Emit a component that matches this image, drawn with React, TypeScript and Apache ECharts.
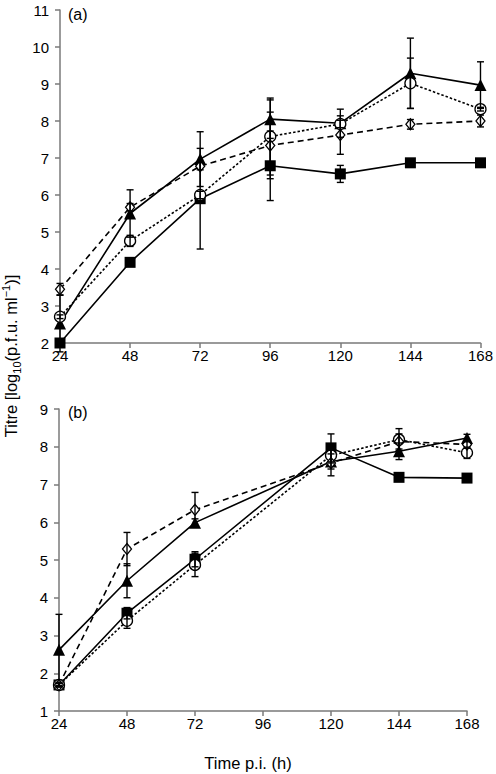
import React, { useEffect, useRef } from "react";
import * as echarts from "echarts";

const hours = [24, 48, 72, 96, 120, 144, 168];
const xTicks = [24, 48, 72, 96, 120, 144, 168];

// Panel (a)
const aSquare = [2.0, 4.18, 5.9, 6.79, 6.57, 6.87, 6.87];
const aSquareErr = [0, 0, 1.36, 0.94, 0.23, 0, 0];
const aTriangle = [2.53, 5.5, 6.97, 8.05, 7.94, 9.29, 8.97];
const aTriangleErr = [0.77, 0.64, 0.74, 0.52, 0.38, 0.95, 0.63];
const aCircle = [2.71, 4.76, 6.0, 7.58, 7.92, 9.02, 8.32];
const aCircleErr = [0.05, 0.15, 0.1, 1.04, 0.1, 0.68, 0.05];
const aDiamond = [3.45, 5.67, 6.78, 7.34, 7.62, 7.91, 8.0];
const aDiamondErr = [0.16, 0.1, 0.1, 0.9, 0.52, 0.13, 0.16];

// Panel (b) (no sample at 96 h)
const bSquare = [1.69, 3.59, 5.02, null, 7.97, 7.19, 7.17];
const bSquareErr = [0.05, 0.15, 0.2, 0, 0.37, 0, 0];
const bTriangle = [2.62, 4.45, 5.99, null, 7.61, 7.88, 8.23];
const bTriangleErr = [0.94, 0.45, 0.1, 0, 0.2, 0.22, 0.1];
const bCircle = [1.69, 3.39, 4.87, null, 7.77, 8.19, 7.84];
const bCircleErr = [0.05, 0.2, 0.31, 0, 0.2, 0.29, 0.15];
const bDiamond = [1.69, 5.29, 6.33, null, 7.57, 8.14, 8.06];
const bDiamondErr = [0.05, 0.44, 0.46, 0, 0.34, 0.2, 0.1];

const FONT = "Liberation Sans, Arial, sans-serif";

type Val = number | null;

function lineSeries(
  vals: Val[],
  grid: number,
  symbol: string,
  size: number | number[],
  filled: boolean,
  dash: "solid" | number[]
) {
  return {
    type: "line",
    xAxisIndex: grid,
    yAxisIndex: grid,
    data: hours.map((h, i) => [h, vals[i]]).filter((d) => d[1] !== null),
    symbol,
    symbolSize: size,
    showSymbol: true,
    connectNulls: true,
    lineStyle: { color: "#000", width: 1.6, type: dash },
    itemStyle: {
      color: filled ? "#000" : "#fff",
      borderColor: "#000",
      borderWidth: filled ? 0 : 1.3,
    },
    z: 3,
  };
}

function errSeries(vals: Val[], errs: number[], grid: number) {
  const data: number[][] = [];
  hours.forEach((h, i) => {
    const v = vals[i];
    if (v !== null && errs[i] > 0) data.push([h, v - errs[i], v + errs[i]]);
  });
  return {
    type: "custom",
    xAxisIndex: grid,
    yAxisIndex: grid,
    data,
    z: 4,
    renderItem: (params: any, api: any) => {
      const x = api.value(0);
      const p1 = api.coord([x, api.value(1)]);
      const p2 = api.coord([x, api.value(2)]);
      const w = 3.5;
      const st = { stroke: "#000", lineWidth: 1.4 };
      return {
        type: "group",
        children: [
          { type: "line", shape: { x1: p1[0], y1: p1[1], x2: p2[0], y2: p2[1] }, style: st },
          { type: "line", shape: { x1: p1[0] - w, y1: p1[1], x2: p1[0] + w, y2: p1[1] }, style: st },
          { type: "line", shape: { x1: p2[0] - w, y1: p2[1], x2: p2[0] + w, y2: p2[1] }, style: st },
        ],
      };
    },
  };
}

function xAxis(grid: number) {
  return {
    type: "value",
    gridIndex: grid,
    min: xTicks[0],
    max: xTicks[xTicks.length - 1],
    interval: 24,
    axisLine: { show: true, lineStyle: { color: "#7a7a7a", width: 1.5 } },
    axisTick: { show: true, length: 5, lineStyle: { color: "#7a7a7a", width: 1.5 } },
    axisLabel: { color: "#000", fontSize: 15, fontFamily: FONT, margin: 5 },
    splitLine: { show: false },
  };
}

function yAxis(grid: number, min: number, max: number) {
  return {
    type: "value",
    gridIndex: grid,
    min,
    max,
    interval: 1,
    axisLine: { show: true, lineStyle: { color: "#7a7a7a", width: 1.5 } },
    axisTick: { show: true, length: 5, lineStyle: { color: "#7a7a7a", width: 1.5 } },
    axisLabel: { color: "#000", fontSize: 15, fontFamily: FONT, margin: 11 },
    splitLine: { show: false },
  };
}

export default function App() {
  const ref = useRef<HTMLDivElement>(null);
  useEffect(() => {
    if (!ref.current) return;
    const chart = echarts.init(ref.current, null, { renderer: "svg" });
    const option: any = {
      animation: false,
      backgroundColor: "#fff",
      grid: [
        { left: 60, top: 10, width: 422, height: 333 },
        { left: 59, top: 409, width: 408, height: 302 },
      ],
      xAxis: [xAxis(0), xAxis(1)],
      yAxis: [yAxis(0, 2, 11), yAxis(1, 1, 9)],
      series: [
        lineSeries(aSquare, 0, "rect", 11, true, "solid"),
        lineSeries(aTriangle, 0, "triangle", 12, true, "solid"),
        lineSeries(aCircle, 0, "circle", 11, false, [2.5, 2]),
        lineSeries(aDiamond, 0, "diamond", [9, 11], false, [6, 4]),
        errSeries(aSquare, aSquareErr, 0),
        errSeries(aTriangle, aTriangleErr, 0),
        errSeries(aCircle, aCircleErr, 0),
        errSeries(aDiamond, aDiamondErr, 0),
        lineSeries(bSquare, 1, "rect", 11, true, "solid"),
        lineSeries(bTriangle, 1, "triangle", 12, true, "solid"),
        lineSeries(bCircle, 1, "circle", 11, false, [2.5, 2]),
        lineSeries(bDiamond, 1, "diamond", [9, 11], false, [6, 4]),
        errSeries(bSquare, bSquareErr, 1),
        errSeries(bTriangle, bTriangleErr, 1),
        errSeries(bCircle, bCircleErr, 1),
        errSeries(bDiamond, bDiamondErr, 1),
      ],
      graphic: [
        {
          type: "text",
          left: 68,
          top: 6,
          style: { text: "(a)", fill: "#000", font: `16px ${FONT}` },
        },
        {
          type: "text",
          left: 68,
          top: 404,
          style: { text: "(b)", fill: "#000", font: `16px ${FONT}` },
        },
        {
          type: "text",
          x: 248,
          y: 763,
          style: {
            text: "Time p.i. (h)",
            fill: "#000",
            font: `16.5px ${FONT}`,
            align: "center",
            verticalAlign: "middle",
          },
        },
        {
          type: "text",
          x: 11,
          y: 356,
          rotation: Math.PI / 2,
          style: {
            text: "{a|Titre [log}{sub|10}{a|(p.f.u. ml}{sup|−1}{a|)]}",
            align: "center",
            verticalAlign: "middle",
            rich: {
              a: { fontSize: 16.5, fontFamily: FONT, fill: "#000", lineHeight: 22, verticalAlign: "middle" },
              sub: { fontSize: 11, fontFamily: FONT, fill: "#000", lineHeight: 22, verticalAlign: "bottom" },
              sup: { fontSize: 11, fontFamily: FONT, fill: "#000", lineHeight: 22, verticalAlign: "top" },
            },
          },
        },
      ],
    };
    chart.setOption(option);
    return () => chart.dispose();
  }, []);
  return (
    <div
      ref={ref}
      style={{ position: "absolute", left: 0, top: 0, width: 496, height: 774, background: "#fff" }}
    />
  );
}
